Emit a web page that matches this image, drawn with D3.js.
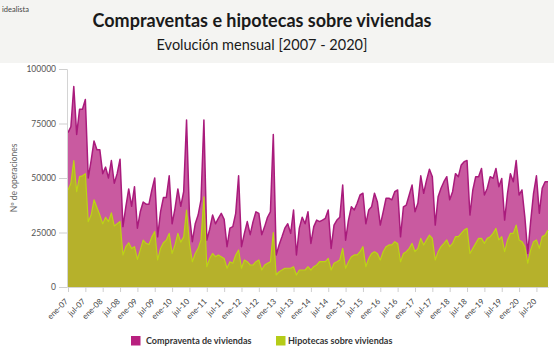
<!DOCTYPE html>
<html>
<head>
<meta charset="utf-8">
<script src="https://cdn.jsdelivr.net/npm/d3@7"></script>
<style>
  html, body { margin: 0; padding: 0; background: #ffffff; }
  svg { display: block; font-family: Lato, "Open Sans", sans-serif; }
</style>
</head>
<body>
<div id="chart"></div>
<script>
// meses (categorías) ene-07 ... nov-20
const monthNames = ["ene", "feb", "mar", "abr", "may", "jun", "jul", "ago", "sep", "oct", "nov", "dic"];
const years = ["07", "08", "09", "10", "11", "12", "13", "14", "15", "16", "17", "18", "19", "20"];
const months = [];
years.forEach(yy => monthNames.forEach(m => months.push(`${m}-${yy}`)));
months.splice(months.indexOf("nov-20") + 1); // la serie termina en nov-20

// etiquetas del eje x (cada 6 meses)
const tickLabels = ["ene-07", "jul-07", "ene-08", "jul-08", "ene-09", "jul-09", "ene-10", "jul-10",
  "ene-11", "jul-11", "ene-12", "jul-12", "ene-13", "jul-13", "ene-14", "jul-14", "ene-15", "jul-15",
  "ene-16", "jul-16", "ene-17", "jul-17", "ene-18", "jul-18", "ene-19", "jul-19", "ene-20", "jul-20"];

const yTicks = [0, 25000, 50000, 75000, 100000];

// Compraventa de viviendas
const compraventas = [
  70800, 73500, 92000, 70000, 81500, 81500, 86000, 50000, 58000, 67000, 63000, 63000,
  52000, 55000, 50000, 58000, 47600, 52000, 58600, 27700, 36800, 45000, 37000, 46000,
  27000, 34500, 39000, 38000, 38000, 44500, 50000, 23000, 34500, 41000, 41000, 51000,
  29000, 36000, 45000, 37000, 43700, 76600, 33000, 20800, 29000, 33000, 40000, 76600,
  21500, 26500, 33000, 29000, 31500, 33800, 31000, 18500, 27000, 27700, 33800, 51000,
  18500, 24600, 30000, 24000, 30000, 34500, 33800, 24000, 27700, 32000, 34500, 70000,
  14700, 19300, 23000, 27000, 29000, 24600, 35300, 14700, 27000, 32000, 29000, 34500,
  20000, 27700, 30700, 30000, 30700, 31500, 35300, 17700, 28400, 30700, 32000, 46800,
  21500, 30700, 36800, 35300, 38400, 42200, 43000, 29000, 35300, 36800, 43000, 39000,
  28400, 34500, 40700, 40700, 40000, 43700, 44500, 23000, 36800, 37600, 42200, 46800,
  34500, 38400, 51000, 43000, 49000, 54000, 50600, 28400, 41400, 45300, 48300, 50600,
  40000, 43700, 52000, 50600, 56000, 57500, 58000, 33000, 44500, 50600, 50600, 54400,
  42200, 45300, 50600, 49800, 54400, 46000, 49800, 30700, 43000, 52000, 48300, 58000,
  42200, 44500, 32000, 15400, 30000, 43000, 51000, 33800, 45300, 48300, 48300
];

// Hipotecas sobre viviendas
const hipotecas = [
  44500, 47600, 58000, 43700, 50600, 51000, 52000, 30000, 33000, 40000, 36500, 33000,
  29000, 32000, 30000, 34000, 28000, 29000, 30000, 14700, 18500, 20300, 17700, 18500,
  12700, 17000, 21500, 20000, 19500, 23000, 25400, 12400, 17700, 20300, 21500, 24600,
  15400, 19300, 24600, 20600, 23000, 35300, 20000, 11600, 15400, 17700, 21600, 41400,
  9300, 13100, 15400, 13900, 14700, 13900, 13100, 8600, 11600, 10900, 14700, 17000,
  8600, 12400, 11600, 10100, 10100, 11600, 12400, 7800, 10100, 10900, 11600, 25000,
  5500, 7000, 7800, 8600, 8600, 8600, 9300, 5500, 7800, 7800, 7800, 9300,
  7800, 9300, 10100, 11600, 11600, 11600, 13100, 7800, 10900, 11600, 12400, 17700,
  8600, 11600, 13900, 14700, 14700, 16200, 18500, 9300, 13100, 15400, 16200, 15400,
  12400, 16200, 18500, 19300, 19300, 20800, 20000, 11600, 15400, 16200, 17700, 20000,
  16200, 17700, 22300, 19300, 21600, 23800, 22300, 12400, 16200, 18500, 20000, 21600,
  18500, 20000, 23100, 23100, 24600, 26100, 26900, 15400, 17700, 20000, 22300, 22300,
  20000, 22300, 23100, 24600, 26900, 21600, 23100, 16200, 21600, 24600, 24600, 28400,
  21600, 20800, 18500, 10900, 17000, 20800, 21600, 17700, 23100, 23800, 26100
];

const seriesNames = ["Compraventa de viviendas", "Hipotecas sobre viviendas"];

const width = 554;
const height = 353;
const margin = { top: 69, right: 6, bottom: 66, left: 68 };

const svg = d3.select("#chart")
  .append("svg")
  .attr("width", width)
  .attr("height", height);

// cabecera gris
svg.append("rect")
  .attr("x", 0).attr("y", 0)
  .attr("width", width).attr("height", 63)
  .attr("fill", "#f4f4f2");

svg.append("text")
  .attr("x", 2).attr("y", 12)
  .attr("font-size", 7.5)
  .attr("fill", "#444")
  .text("idealista");

svg.append("text")
  .attr("x", 262).attr("y", 27)
  .attr("text-anchor", "middle")
  .attr("font-size", 18)
  .attr("font-weight", "bold")
  .attr("fill", "#1a1a1a")
  .text("Compraventas e hipotecas sobre viviendas");

svg.append("text")
  .attr("x", 262).attr("y", 50)
  .attr("text-anchor", "middle")
  .attr("font-size", 14.5)
  .attr("fill", "#1a1a1a")
  .text("Evolución mensual [2007 - 2020]");

// escalas
const xScale = d3.scalePoint()
  .domain(months)
  .range([margin.left, width - margin.right]);

const yScale = d3.scaleLinear()
  .domain([0, 100000])
  .range([height - margin.bottom, margin.top]);

// areas
const areaOf = values => d3.area()
  .x((d, i) => xScale(months[i]))
  .y0(yScale(0))
  .y1(d => yScale(d))(values);

const lineOf = values => d3.line()
  .x((d, i) => xScale(months[i]))
  .y(d => yScale(d))(values);

svg.append("path")
  .attr("d", areaOf(compraventas))
  .attr("fill", "#c95aa0");
svg.append("path")
  .attr("d", lineOf(compraventas))
  .attr("fill", "none")
  .attr("stroke", "#a91b7c")
  .attr("stroke-width", 1.5)
  .attr("stroke-linejoin", "round");

svg.append("path")
  .attr("d", areaOf(hipotecas))
  .attr("fill", "#b6b12b");
svg.append("path")
  .attr("d", lineOf(hipotecas))
  .attr("fill", "none")
  .attr("stroke", "#bcd414")
  .attr("stroke-width", 1.2)
  .attr("stroke-linejoin", "round");

// eje y
const yAxis = svg.append("g")
  .attr("transform", `translate(${margin.left - 1}, 0)`)
  .call(d3.axisLeft(yScale).tickValues(yTicks).tickFormat(d3.format("d")).tickSize(8).tickPadding(3));
yAxis.select(".domain").attr("stroke", "#d4d4d4");
yAxis.selectAll(".tick line").attr("stroke", "#cfcfcf");
yAxis.selectAll(".tick text")
  .attr("font-size", 8.5)
  .attr("fill", "#555")
  .attr("font-family", "Lato, sans-serif");

svg.append("text")
  .attr("transform", `translate(17, ${(margin.top + height - margin.bottom) / 2}) rotate(-90)`)
  .attr("text-anchor", "middle")
  .attr("font-size", 8.5)
  .attr("fill", "#666")
  .text("Nº de operaciones");

// eje x
const tickMonths = months.filter(m => tickLabels.includes(m));
const xAxis = svg.append("g")
  .attr("transform", `translate(0, ${height - margin.bottom})`)
  .call(d3.axisBottom(xScale).tickValues(tickMonths).tickSize(5).tickSizeOuter(0));
xAxis.select(".domain").attr("stroke", "#d4d4d4");
xAxis.selectAll(".tick line").attr("stroke", "#cfcfcf");
xAxis.selectAll(".tick text")
  .attr("x", 0).attr("y", 0).attr("dy", "0.35em")
  .attr("transform", "translate(-2, 13) rotate(-45)")
  .style("text-anchor", "end")
  .attr("font-size", 8)
  .attr("fill", "#444")
  .attr("font-family", "Lato, sans-serif");

// leyenda
const legendColors = ["#b8207f", "#b5cc18"];
const legendX = [131, 276];
const legend = svg.append("g");
seriesNames.forEach((name, i) => {
  legend.append("rect")
    .attr("x", legendX[i]).attr("y", 336)
    .attr("width", 9.5).attr("height", 9.5)
    .attr("fill", legendColors[i]);
  legend.append("text")
    .attr("x", legendX[i] + (i === 0 ? 15 : 12)).attr("y", 344)
    .attr("font-size", 9)
    .attr("font-weight", "bold")
    .attr("fill", "#333")
    .text(name);
});
</script>
</body>
</html>
